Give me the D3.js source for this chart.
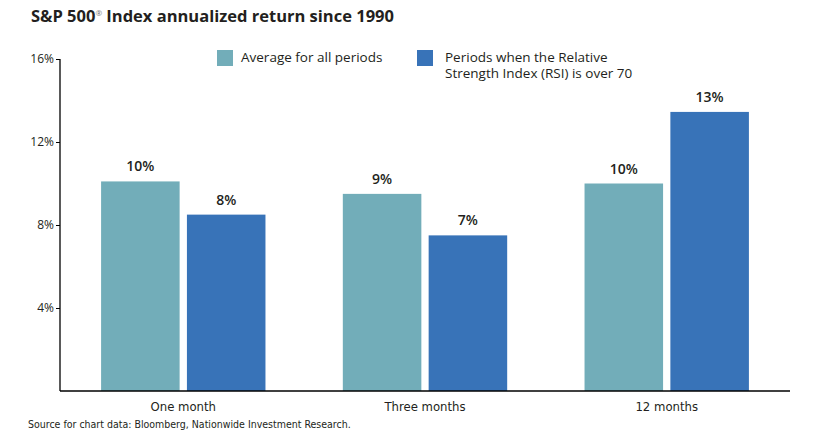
<!DOCTYPE html>
<html>
<head>
<meta charset="utf-8">
<script src="https://cdn.jsdelivr.net/npm/d3@7"></script>
<style>
  body { margin: 0; background: #fff; }
  svg { display: block; }
</style>
</head>
<body>
<svg id="chart" width="818" height="433"></svg>
<script>
var categories = ["One month", "Three months", "12 months"];
var seriesNames = ["Average for all periods", "Periods when the Relative Strength Index (RSI) is over 70"];
var averageValues = [10.1, 9.5, 10.0];
var rsiValues = [8.5, 7.5, 13.45];
var valueLabels = [["10%", "8%"], ["9%", "7%"], ["10%", "13%"]];
var yTicks = [4, 8, 12, 16];

var teal = "#72adb9";
var blue = "#3873b8";
var mainFont = "'Open Sans', 'Noto Sans', sans-serif";
var narrowFont = "'Liberation Sans Narrow', 'DejaVu Sans Condensed', Lato, sans-serif";

var svg = d3.select("#chart");
var plotLeft = 60, plotRight = 790, plotTop = 59, plotBottom = 391;

var x0 = d3.scaleBand().domain(categories).range([plotLeft, plotRight]).paddingInner(0.32).paddingOuter(0.17);
var x1 = d3.scaleBand().domain([0, 1]).range([0, x0.bandwidth()]).paddingInner(0.085);
var y = d3.scaleLinear().domain([0, 16]).range([plotBottom, plotTop]);

var rows = categories.map(function (c, i) {
    return { cat: c, values: [averageValues[i], rsiValues[i]], labels: valueLabels[i] };
});

// title
var title = svg.append("text")
    .attr("x", 31).attr("y", 22)
    .style("font-family", mainFont).style("font-weight", "bold")
    .style("font-size", "16.5px").style("fill", "#231f20");
title.append("tspan").text("S&P 500");
title.append("tspan").text("®").style("font-size", "8px").style("font-weight", "normal").attr("dy", -6).style("fill", "#777");
title.append("tspan").text(" Index annualized return since 1990").attr("dy", 6);

// bars
var groups = svg.selectAll("g.group").data(rows).enter().append("g")
    .attr("class", "group")
    .attr("transform", function (d) { return "translate(" + x0(d.cat) + ",0)"; });

function cells(d) {
    return d.values.map(function (v, k) { return { k: k, v: v, label: d.labels[k] }; });
}

groups.selectAll("rect").data(cells).enter().append("rect")
    .attr("x", function (d) { return x1(d.k); })
    .attr("width", x1.bandwidth())
    .attr("y", function (d) { return y(d.v); })
    .attr("height", function (d) { return y(0) - y(d.v); })
    .style("fill", function (d) { return d.k == 0 ? teal : blue; });

groups.selectAll("text.val").data(cells).enter().append("text")
    .attr("class", "val")
    .attr("x", function (d) { return x1(d.k) + x1.bandwidth() / 2; })
    .attr("y", function (d) { return y(d.v) - 10; })
    .attr("text-anchor", "middle")
    .style("font-family", mainFont).style("font-weight", "600")
    .style("font-size", "14px").style("fill", "#231f20")
    .text(function (d) { return d.label; });

// y axis
var yAxis = svg.append("g")
    .attr("transform", "translate(" + plotLeft + ",0)")
    .call(d3.axisLeft(y).tickValues(yTicks).tickSize(4).tickSizeOuter(0)
        .tickFormat(function (d) { return d + "%"; }));
yAxis.select(".domain").attr("d", "M0," + plotTop + "V" + plotBottom).style("stroke", "#000").style("stroke-width", 1.3);
yAxis.selectAll(".tick line").style("stroke", "#000");
yAxis.selectAll(".tick text")
    .attr("x", -6)
    .style("font-family", mainFont).style("font-size", "12px").style("fill", "#231f20");

// x axis
var xAxis = svg.append("g")
    .attr("transform", "translate(0," + plotBottom + ")")
    .call(d3.axisBottom(x0).tickSize(0).tickPadding(11));
xAxis.select(".domain").attr("d", "M" + plotLeft + ",0H" + plotRight).style("stroke", "#000").style("stroke-width", 1.3);
xAxis.selectAll(".tick text")
    .style("font-family", narrowFont).style("font-size", "13px").style("fill", "#231f20");

// legend
var legend = svg.append("g");
legend.append("rect").attr("x", 217).attr("y", 50).attr("width", 16).attr("height", 16).style("fill", teal);
legend.append("text").attr("x", 241).attr("y", 62)
    .style("font-family", mainFont).style("font-size", "13.5px").style("fill", "#231f20")
    .text(seriesNames[0]);
legend.append("rect").attr("x", 417).attr("y", 50).attr("width", 16).attr("height", 16).style("fill", blue);
var lt = legend.append("text").attr("x", 445).attr("y", 62)
    .style("font-family", mainFont).style("font-size", "13.5px").style("fill", "#231f20");
lt.append("tspan").attr("x", 445).text("Periods when the Relative");
lt.append("tspan").attr("x", 445).attr("dy", 16).text("Strength Index (RSI) is over 70");

// source
svg.append("text").attr("x", 28).attr("y", 428)
    .style("font-family", narrowFont).style("font-size", "10.5px").style("fill", "#231f20")
    .text("Source for chart data: Bloomberg, Nationwide Investment Research.");
</script>
</body>
</html>
